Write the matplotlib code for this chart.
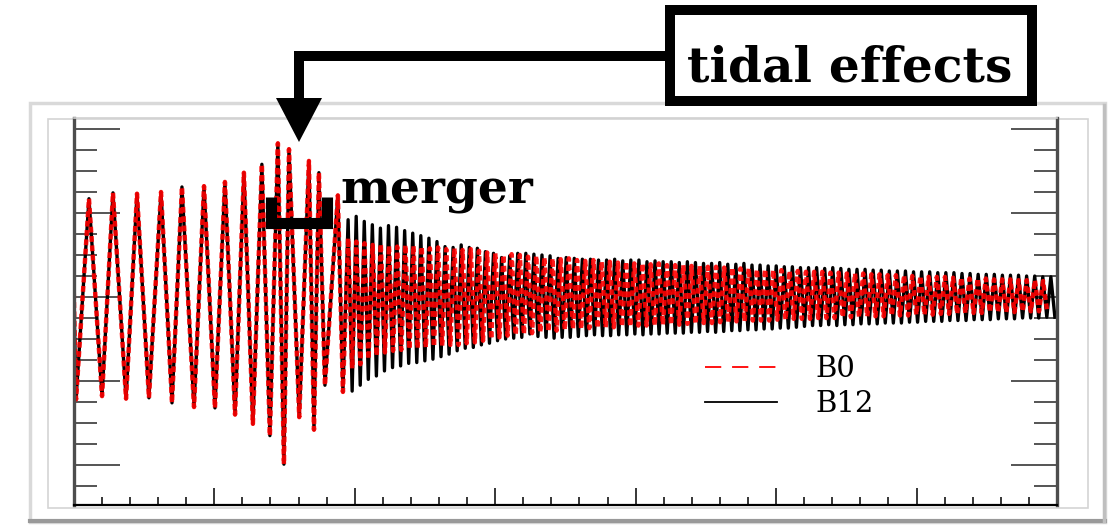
import numpy as np
import matplotlib
matplotlib.use("Agg")
import matplotlib.pyplot as plt
from matplotlib.lines import Line2D
from matplotlib.patches import Rectangle, Polygon

# =============================================================================
# DATA (x in plot units, y in strain units)
# =============================================================================
# inspiral + merger extrema, shared by both runs
insp_t = [0.000, 0.016, 0.108, 0.201, 0.279, 0.372, 0.450, 0.535, 0.621, 0.699,
          0.770, 0.856, 0.927, 1.005, 1.076, 1.148, 1.211, 1.275, 1.339, 1.396,
          1.453, 1.496, 1.532, 1.605, 1.674, 1.710, 1.745, 1.788, 1.880, 1.916]
insp_h = [0.05, -1.22, 1.17, -1.18, 1.24, -1.21, 1.23, -1.20, 1.25, -1.26,
          1.31, -1.31, 1.32, -1.32, 1.37, -1.40, 1.48, -1.51, 1.58, -1.65,
          1.83, -1.99, 1.76, -1.43, 1.62, -1.58, 1.48, -1.05, 1.21, -1.13]

# post-merger ringdown, one value per cycle
b12_start, b12_end = 1.953, 6.985
b12_tops = [0.92, 0.96, 0.90, 0.86, 0.82, 0.85, 0.83, 0.79,
            0.76, 0.73, 0.70, 0.66, 0.60, 0.59, 0.62, 0.59,
            0.58, 0.54, 0.52, 0.47, 0.49, 0.52, 0.52, 0.51,
            0.50, 0.49, 0.46, 0.47, 0.46, 0.45, 0.45, 0.44,
            0.44, 0.45, 0.43, 0.44, 0.44, 0.42, 0.43, 0.42,
            0.42, 0.41, 0.42, 0.41, 0.40, 0.40, 0.41, 0.39,
            0.39, 0.40, 0.38, 0.38, 0.37, 0.37, 0.36, 0.36,
            0.35, 0.35, 0.35, 0.34, 0.35, 0.34, 0.33, 0.33,
            0.33, 0.32, 0.32, 0.31, 0.31, 0.31, 0.30, 0.30,
            0.30, 0.29, 0.29, 0.29, 0.28, 0.28, 0.27, 0.27,
            0.27, 0.26, 0.26, 0.26, 0.25, 0.25, 0.24, 0.24]
b12_bots = [-1.12, -1.05, -0.98, -0.94, -0.88, -0.84, -0.82, -0.79,
            -0.78, -0.76, -0.74, -0.71, -0.68, -0.64, -0.61, -0.60,
            -0.57, -0.55, -0.52, -0.50, -0.49, -0.48, -0.44, -0.47,
            -0.48, -0.49, -0.48, -0.48, -0.47, -0.46, -0.45, -0.46,
            -0.46, -0.45, -0.45, -0.44, -0.45, -0.44, -0.44, -0.43,
            -0.43, -0.43, -0.42, -0.42, -0.41, -0.42, -0.41, -0.40,
            -0.40, -0.39, -0.39, -0.38, -0.38, -0.37, -0.37, -0.36,
            -0.35, -0.34, -0.34, -0.33, -0.34, -0.33, -0.33, -0.32,
            -0.32, -0.32, -0.31, -0.31, -0.31, -0.30, -0.30, -0.29,
            -0.29, -0.29, -0.28, -0.28, -0.28, -0.27, -0.27, -0.27,
            -0.26, -0.26, -0.26, -0.25, -0.25, -0.25, -0.24, -0.24]

b0_start, b0_end = 1.953, 6.93
b0_tops = [0.70, 0.66, 0.64, 0.62, 0.63, 0.61, 0.60, 0.62,
           0.61, 0.60, 0.58, 0.59, 0.57, 0.58, 0.56, 0.57,
           0.55, 0.53, 0.52, 0.50, 0.51, 0.50, 0.48, 0.49,
           0.47, 0.46, 0.45, 0.46, 0.44, 0.43, 0.44, 0.42,
           0.42, 0.41, 0.42, 0.40, 0.40, 0.39, 0.40, 0.38,
           0.38, 0.38, 0.37, 0.37, 0.36, 0.36, 0.35, 0.35,
           0.34, 0.34, 0.33, 0.33, 0.32, 0.32, 0.31, 0.31,
           0.30, 0.30, 0.30, 0.29, 0.29, 0.28, 0.28, 0.28,
           0.27, 0.27, 0.26, 0.26, 0.26, 0.25, 0.25, 0.24,
           0.24, 0.24, 0.23, 0.23, 0.22, 0.22, 0.22, 0.21,
           0.21, 0.21, 0.20, 0.20, 0.20, 0.19]
b0_bots = [-0.85, -0.80, -0.74, -0.70, -0.66, -0.64, -0.63, -0.62,
           -0.61, -0.60, -0.59, -0.58, -0.57, -0.57, -0.55, -0.54,
           -0.52, -0.50, -0.48, -0.46, -0.45, -0.44, -0.43, -0.42,
           -0.41, -0.40, -0.39, -0.38, -0.38, -0.37, -0.37, -0.36,
           -0.36, -0.35, -0.35, -0.34, -0.34, -0.34, -0.33, -0.33,
           -0.33, -0.32, -0.32, -0.31, -0.31, -0.30, -0.30, -0.29,
           -0.29, -0.28, -0.28, -0.28, -0.27, -0.27, -0.26, -0.26,
           -0.26, -0.25, -0.25, -0.25, -0.24, -0.24, -0.24, -0.23,
           -0.23, -0.23, -0.22, -0.22, -0.22, -0.21, -0.21, -0.21,
           -0.20, -0.20, -0.20, -0.19, -0.19, -0.19, -0.18, -0.18,
           -0.18, -0.18, -0.17, -0.17, -0.17, -0.17]

labels = ["B0", "B12"]


def ringdown(t0, t1, tops, bots):
    # alternate peak / trough on an even time grid
    h = np.ravel(np.column_stack([tops, bots]))
    t = np.linspace(t0, t1, len(h))
    return t, h


t12, h12 = ringdown(b12_start, b12_end, b12_tops, b12_bots)
t0, h0 = ringdown(b0_start, b0_end, b0_tops, b0_bots)
t_b12 = np.concatenate([insp_t, t12])
h_b12 = np.concatenate([insp_h, h12])
t_b0 = np.concatenate([insp_t, t0])
h_b0 = np.concatenate([insp_h, h0])

# =============================================================================
# FIGURE
# =============================================================================
W, H = 1112, 527
fig = plt.figure(figsize=(W / 100, H / 100), dpi=100)


def fp(x, y):
    # pixel position in the picture -> figure fraction
    return x / W, 1 - y / H


# screenshot panel behind the plot
fig.add_artist(Rectangle(fp(30, 522), 1075 / W, 419 / H, transform=fig.transFigure,
                         fc="none", ec="0.85", lw=2.5, zorder=-2))
fig.add_artist(Line2D([30 / W, 1105 / W], [1 - 521 / H] * 2, transform=fig.transFigure,
                      color="0.6", lw=3, zorder=-2))
fig.add_artist(Line2D([1104 / W] * 2, [1 - 521 / H, 1 - 105 / H], transform=fig.transFigure,
                      color="0.75", lw=2.5, zorder=-2))
fig.add_artist(Rectangle(fp(48, 508), 1040 / W, 389 / H, transform=fig.transFigure,
                         fc="none", ec="0.83", lw=1.2, zorder=-1))

ax = fig.add_axes([73.8 / W, 22 / H, 983.2 / W, 387 / H])
ax.patch.set_visible(False)

ax.plot(t_b12, h_b12, color="black", lw=2.4, solid_joinstyle="round")
ax.plot(t_b0, h_b0, color="red", lw=3.2, ls=(0, (1.3, 0.8)), alpha=0.9,
        dash_joinstyle="round")

ax.set_xlim(0, 7)
ax.set_ylim(-2.476, 2.131)
ax.set_xticks(np.arange(0, 8, 1))
ax.set_xticks(np.arange(0, 7.01, 0.2), minor=True)
ax.set_yticks(np.arange(-2, 2.1, 1))
ax.set_yticks(np.arange(-2.25, 2.1, 0.25), minor=True)
ax.tick_params(which="both", direction="in", labelbottom=False, labelleft=False,
               left=True, right=True, bottom=True, top=False, color="0.15")
ax.tick_params(axis="y", which="major", length=33, width=1.1)
ax.tick_params(axis="y", which="minor", length=16.5, width=1.1)
ax.tick_params(axis="x", which="major", length=12, width=1.3)
ax.tick_params(axis="x", which="minor", length=6, width=1.3)
for side in ["left", "right"]:
    ax.spines[side].set_color("0.3")
    ax.spines[side].set_linewidth(2.4)
ax.spines["bottom"].set_linewidth(1.6)
ax.spines["top"].set_color("0.82")
ax.spines["top"].set_linewidth(1.2)

handles = [Line2D([], [], color="red", lw=1.3, ls=(0, (9, 6))),
           Line2D([], [], color="black", lw=1.3)]
ax.legend(handles, labels, loc="upper left", bbox_to_anchor=fp(705, 355),
          bbox_transform=fig.transFigure, frameon=False, borderpad=0, borderaxespad=0,
          handlelength=2.47, handletextpad=1.3, labelspacing=0.25,
          prop={"family": "DejaVu Serif", "size": 21})

# "tidal effects" box with bent arrow
fig.add_artist(Rectangle(fp(670, 101), 362 / W, 91 / H, transform=fig.transFigure,
                         fc="white", ec="black", lw=7.2, joinstyle="miter", zorder=5))
fig.text(*fp(850, 82), "tidal effects", ha="center", va="baseline",
         family="DejaVu Serif", weight="bold", fontsize=35, zorder=6)
ax_x, ax_y = zip(fp(670, 56), fp(299, 56), fp(299, 100))
fig.add_artist(Line2D(ax_x, ax_y, transform=fig.transFigure, color="black", lw=7.2,
                      solid_joinstyle="miter", solid_capstyle="butt", zorder=5))
fig.add_artist(Polygon([fp(276, 98), fp(322, 98), fp(299, 142)], closed=True,
                       transform=fig.transFigure, fc="black", ec="none", zorder=5))

# merger bracket
bx, by = zip(fp(271, 197), fp(271, 223), fp(327, 223), fp(327, 197))
fig.add_artist(Line2D(bx, by, transform=fig.transFigure, color="black", lw=8,
                      solid_joinstyle="miter", solid_capstyle="butt", zorder=5))
fig.text(*fp(340, 203), "merger", ha="left", va="baseline",
         family="DejaVu Serif", weight="bold", fontsize=34, zorder=6)

fig.savefig("out.png", dpi=100, facecolor="white")
